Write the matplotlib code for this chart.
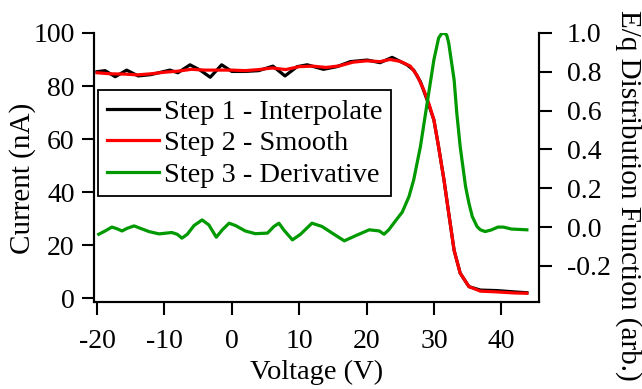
import matplotlib
matplotlib.use("Agg")
import matplotlib.pyplot as plt

plt.rcParams['font.family'] = ['Liberation Serif', 'DejaVu Serif']

# Step 1 - interpolated current (nA) vs voltage (V)
v_interp = [-20, -18.8, -17.3, -15.6, -13.9, -12, -9.2, -8, -6.2, -4.7, -3.2, -1.5,
            0, 2, 4, 6.1, 7.9, 9.7, 11.2, 13.6, 15.6, 17.6, 20.1, 22, 23.8, 26,
            27, 28, 29, 30, 30.7, 31.5, 32.2, 33, 33.9, 35.2, 36.9, 39.4, 42, 43.8]
i_interp = [85.4, 85.8, 83.5, 86, 83.8, 84.3, 86, 85, 88, 86, 83.3, 88,
            85.5, 85.5, 85.8, 87.5, 83.8, 87.3, 88, 86.3, 87.3, 89.2, 89.8, 88.8, 90.8, 88,
            86, 81.6, 74.7, 67.2, 57, 44.5, 32, 18, 9.4, 4.3, 3.0, 2.8, 2.3, 2.0]

# Step 2 - smoothed current
v_smooth = [-20, -18, -16, -14, -12, -10, -8, -6, -4, -2, 0, 2, 4, 6, 8, 10, 12, 14,
            16, 18, 20, 22, 23.5, 25, 26.5, 27.5, 28.5, 29.3, 30, 30.7, 31.5, 32.2,
            33, 33.9, 35.2, 36.9, 39.4, 42, 43.8]
i_smooth = [85, 84.6, 84.5, 84.2, 84.6, 85.2, 85.6, 86.3, 86, 86, 86, 85.8, 86.2, 86.8,
            86.2, 87.3, 87.5, 87, 87.6, 89, 89.5, 89.2, 90, 89.3, 87.5, 84, 78.5, 73,
            67.2, 57, 44.5, 32, 18, 9.4, 4.3, 2.6, 2.3, 1.9, 1.8]

# Step 3 - derivative (E/q distribution function, arb.)
v_deriv = [-19.75, -18.8, -17.8, -17.0, -16.3, -15.5, -14.5, -13.6, -12.3, -10.8,
           -8.9, -8.1, -7.4, -6.6, -5.6, -4.4, -3.4, -2.3, -1.4, -0.4, 0.55, 2.0,
           3.5, 5.3, 6.25, 7.0, 7.7, 9.0, 10.2, 11.9, 13.4, 14.9, 16.7, 18.4, 20.4,
           21.9, 22.6, 23.3, 24.3, 25.3, 26.3, 27, 28, 29, 30, 30.7, 31.1, 31.5,
           31.9, 32.2, 33, 33.4, 33.9, 34.7, 35.2, 35.7, 36.4, 36.9, 37.6, 38.5,
           39.5, 40.3, 41.5, 43.8]
d_deriv = [-0.037, -0.020, 0.0, -0.009, -0.02, -0.006, 0.006, -0.006, -0.023, -0.035,
           -0.028, -0.037, -0.057, -0.037, 0.008, 0.037, 0.011, -0.052, -0.014, 0.02,
           0.008, -0.02, -0.034, -0.031, 0.003, 0.02, -0.014, -0.066, -0.037, 0.02,
           0.003, -0.031, -0.071, -0.044, -0.014, -0.02, -0.037, -0.014, 0.032, 0.077,
           0.157, 0.243, 0.415, 0.639, 0.862, 0.974, 0.995, 1.0, 0.99, 0.948, 0.759,
           0.587, 0.415, 0.209, 0.123, 0.054, 0.003, -0.014, -0.023, -0.015, 0.0,
           0.0, -0.01, -0.014]

fig = plt.figure(figsize=(6.42, 3.89), dpi=100)
ax = fig.add_axes([94 / 642, 1 - 302 / 389, 445 / 642, 269 / 389])
ax2 = ax.twinx()

l1, = ax.plot(v_interp, i_interp, color='black', lw=2.3, label='Step 1 - Interpolate')
l2, = ax.plot(v_smooth, i_smooth, color='red', lw=2.3, label='Step 2 - Smooth')
l3, = ax2.plot(v_deriv, d_deriv, color='#009900', lw=2.3, label='Step 3 - Derivative')

ax.set_xlim(-20.45, 45.6)
ax.set_ylim(-1.5, 100)
ax2.set_ylim(-0.386, 1.0)

ax.set_xticks([-20, -10, 0, 10, 20, 30, 40])
ax.set_yticks([0, 20, 40, 60, 80, 100])
ax2.set_yticks([-0.2, 0.0, 0.2, 0.4, 0.6, 0.8, 1.0])
ax2.set_yticklabels(['-0.2', '0.0', '0.2', '0.4', '0.6', '0.8', '1.0'])
ax.set_xticklabels(['-20', '-10', '0', '10', '20', '30', '40'])
ax.set_yticklabels(['0', '20', '40', '60', '80', '100'])

for a in (ax, ax2):
    a.spines['top'].set_visible(False)
    for s in a.spines.values():
        s.set_linewidth(1.5)
ax.tick_params(axis='x', direction='out', length=9, width=1.5, labelsize=20, pad=10.5)
ax.tick_params(axis='y', direction='out', length=9, width=1.5, labelsize=20, pad=5)
ax2.tick_params(axis='y', direction='out', length=9, width=1.5, labelsize=20, pad=11)

ax.set_xlabel('Voltage (V)', fontsize=20.5, va='center')
ax.xaxis.set_label_coords(0.5, -0.262)
ax.set_ylabel('Current (nA)', fontsize=21, va='center')
ax.yaxis.set_label_coords(-0.16, 0.46)
ax2.set_ylabel('E/q Distribution Function (arb.)', fontsize=21, rotation=270,
               va='center', ha='center')
ax2.yaxis.set_label_coords(1.2, 0.398)

leg = ax2.legend(handles=[l1, l2, l3], loc='upper left', bbox_to_anchor=(0.009, 0.788),
                 fontsize=20.5, frameon=True, fancybox=False, framealpha=1,
                 edgecolor='black', handlelength=1.85, handletextpad=0.18,
                 labelspacing=0.2, borderpad=0.3, borderaxespad=0)
leg.get_frame().set_linewidth(1.3)

fig.savefig('out.png', dpi=100)
